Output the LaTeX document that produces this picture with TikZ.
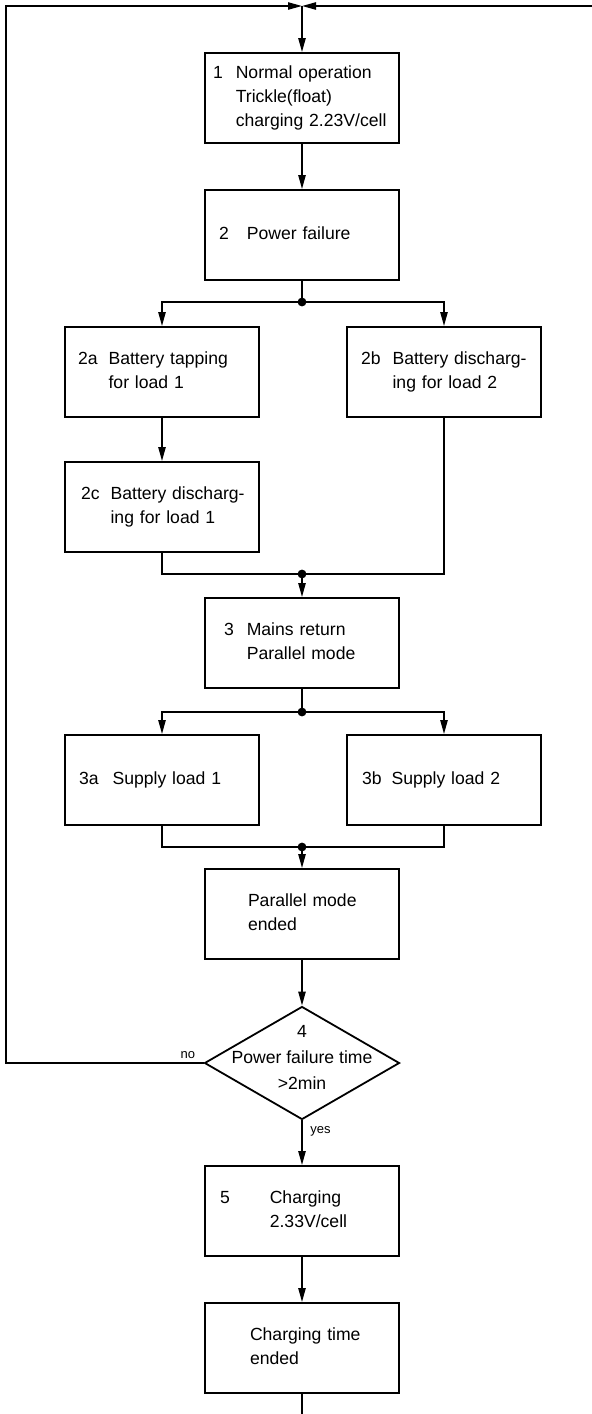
\documentclass[tikz,border=0pt]{standalone}
\usepackage{fontspec}
\setmainfont{Liberation Sans}
\usetikzlibrary{arrows.meta,shapes.geometric}
\newcommand\boxW{89pt}
\newcommand\boxH{45pt}
\newcommand\colL{162}
\newcommand\colM{302}
\newcommand\colR{444}
\newcommand\loopX{6}
\newcommand\topY{6}
\newcommand\numbox[4]{\hspace*{#1}\begin{tabular}{@{}l@{\hspace{#2}}l@{}}#3 & #4\end{tabular}}

\tikzset{
  stepbox/.style={draw, line width=0.9pt, text width=\boxW, minimum height=\boxH, inner xsep=4pt, align=left, font=\fontsize{8.8}{12}\selectfont},
  decision/.style={diamond, draw, line width=0.9pt, minimum width=97.5pt, minimum height=56.5pt, inner sep=0pt},
  flow/.style={line width=0.9pt, -{Triangle[length=7pt,width=3.6pt]}},
  wire/.style={line width=0.9pt},
  answer/.style={font=\fontsize{6.5}{7}\selectfont, inner sep=1pt}
}

\begin{document}
\begin{tikzpicture}[x=0.5pt,y=-0.5pt]
    \useasboundingbox (0,0) rectangle (592,1414);

    % MAIN COLUMN
    \node[stepbox] (b1) at (\colM,98) {\numbox{0pt}{6.5pt}{1}{Normal operation\\ & Trickle(float)\\ & charging 2.23V/cell}};
    \node[stepbox] (b2) at (\colM,235) {\numbox{3pt}{9pt}{2}{Power failure}};

    % POWER FAILURE BRANCHES
    \node[stepbox] (b2a) at (\colL,372) {\numbox{2.5pt}{5.5pt}{2a}{Battery tapping\\ & for load 1}};
    \node[stepbox] (b2b) at (\colR,372) {\numbox{3pt}{6pt}{2b}{Battery discharg-\\ & ing for load 2}};
    \node[stepbox] (b2c) at (\colL,507) {\numbox{4pt}{5.5pt}{2c}{Battery discharg-\\ & ing for load 1}};

    % MAINS RETURN
    \node[stepbox] (b3) at (\colM,643) {\numbox{5.5pt}{6.5pt}{3}{Mains return\\ & Parallel mode}};
    \node[stepbox] (b3a) at (\colL,780) {\numbox{3pt}{7pt}{3a}{Supply load 1}};
    \node[stepbox] (b3b) at (\colR,780) {\numbox{3.5pt}{5pt}{3b}{Supply load 2}};
    \node[stepbox] (b3end) at (\colM,914) {\hspace*{17.5pt}\begin{tabular}{@{}l@{}}Parallel mode\\ended\end{tabular}};

    % DECISION AND CHARGING
    \node[decision] (d4) at (\colM,1063) {};
    \node[font=\fontsize{8.8}{13}\selectfont, align=center] (d4txt) at ([yshift=3pt]d4.center) {4\\Power failure time\\>2min};
    \node[stepbox] (b5) at (\colM,1211) {\numbox{3.5pt}{20pt}{5}{Charging\\ & 2.33V/cell}};
    \node[stepbox] (b5end) at (\colM,1348) {\hspace*{18.5pt}\begin{tabular}{@{}l@{}}Charging time\\ended\end{tabular}};

    \node[answer, anchor=south east] (no) at ([xshift=-3pt,yshift=1pt]d4.west) {no};
    \node[answer, anchor=north west] (yes) at ([xshift=3pt,yshift=-2pt]d4.south) {yes};

    % junctions and loose ends
    \coordinate (top) at (\colM,\topY);
    \coordinate (cornerTL) at (\loopX,\topY);
    \coordinate (edgeR) at (592,\topY);
    \coordinate (exit) at (\colM,1414);
    \coordinate (j1) at (\colM,302);
    \coordinate (j2) at (\colM,574);
    \coordinate (j3) at (\colM,712);
    \coordinate (j4) at (\colM,847);

    % CONNECTORS
    \draw[flow] (top) -- (b1);
    \draw[flow] (b1) -- (b2);
    \draw[wire] (b2) -- (j1);
    \draw[flow] (j1) -| (b2a);
    \draw[flow] (j1) -| (b2b);
    \draw[flow] (b2a) -- (b2c);
    \draw[wire] (b2c) |- (j2);
    \draw[wire] (b2b) |- (j2);
    \draw[flow] (j2) -- (b3);
    \draw[wire] (b3) -- (j3);
    \draw[flow] (j3) -| (b3a);
    \draw[flow] (j3) -| (b3b);
    \draw[wire] (b3a) |- (j4);
    \draw[wire] (b3b) |- (j4);
    \draw[flow] (j4) -- (b3end);
    \draw[flow] (b3end) -- (d4);
    \draw[flow] (d4) -- (b5);
    \draw[flow] (b5) -- (b5end);
    \draw[wire] (b5end) -- (exit);

    % return paths at the top
    \draw[flow] (d4.west) -| (cornerTL) -- (top);
    \draw[flow] (edgeR) -- (top);

    \foreach \j in {j1,j2,j3,j4}{
      \fill (\j) circle (2.2pt);
    }
\end{tikzpicture}
\end{document}
